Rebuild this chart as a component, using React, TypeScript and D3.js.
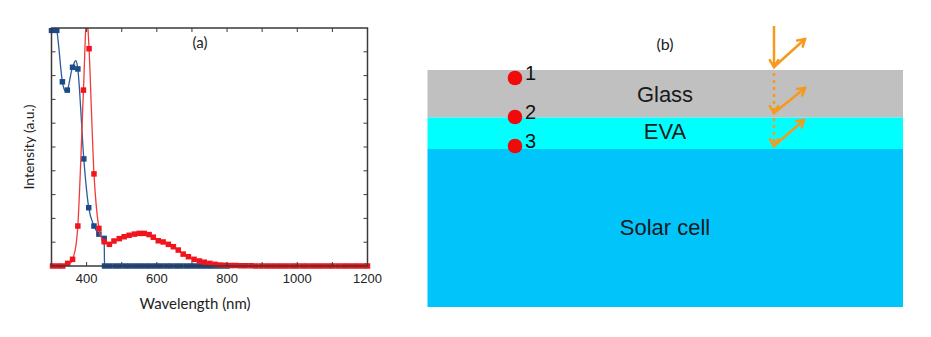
import React from "react";
import * as d3 from "d3";

// ---------- Panel (a) data ----------
const redWavelength = [303, 318, 332, 346, 360, 375, 391, 399, 407, 421, 435, 450, 465, 478, 493, 507, 521, 536, 550, 564, 578, 590, 604, 618, 633, 647, 661, 675, 690, 706, 721, 735, 751, 766, 780, 795, 810, 824, 839, 853, 868, 882, 897, 912, 926, 941, 955, 970, 985, 999, 1014, 1028, 1043, 1058, 1072, 1087, 1101, 1116, 1131, 1145, 1160, 1174, 1189, 1200];
const redIntensity = [0, 0, 0, 0.011, 0.028, 0.168, 0.739, 1.03, 0.913, 0.387, 0.158, 0.102, 0.091, 0.105, 0.115, 0.123, 0.129, 0.134, 0.137, 0.137, 0.132, 0.121, 0.106, 0.101, 0.091, 0.081, 0.067, 0.05, 0.039, 0.028, 0.021, 0.016, 0.011, 0.007, 0.004, 0.003, 0.002, 0.002, 0.001, 0.001, 0.001, 0, 0, 0, 0, 0, 0, 0, 0, 0, 0, 0, 0, 0, 0, 0, 0, 0, 0, 0, 0, 0, 0, 0];
// blue: smooth part (up to the cut-off) and flat tail
const blueWavelength = [300, 315, 331, 345, 360, 375, 392, 406, 421, 435, 450];
const blueIntensity = [0.99, 0.99, 0.774, 0.739, 0.835, 0.828, 0.45, 0.245, 0.168, 0.134, 0.116];
const blueTailWavelength = [451, 466, 481, 495, 510, 524, 539, 553, 568, 582, 597, 611, 626, 640, 655, 669, 684, 698, 713, 727, 742, 756, 771, 785, 800];
const blueTailIntensity = [0, 0, 0, 0, 0, 0, 0, 0, 0, 0, 0, 0, 0, 0, 0, 0, 0, 0, 0, 0, 0, 0, 0, 0, 0];
const xTickLabels = [400, 600, 800, 1000, 1200];
const xMinorTicks = [300, 400, 500, 600, 700, 800, 900, 1000, 1100, 1200];
const yTicks = [0.1, 0.2, 0.3, 0.4, 0.5, 0.6, 0.7, 0.8, 0.9];

// ---------- Panel (b) data ----------
const layerNames = ["Glass", "EVA", "Solar cell"];
const layerColors = ["#c0c0c0", "#00ffff", "#00c4fa"];
const pointLabels = ["1", "2", "3"];

const ORANGE = "#f7991d";

export default function App() {
  const x = d3.scaleLinear().domain([300, 1200]).range([51.5, 367.5]);
  const y = d3.scaleLinear().domain([0, 1]).range([266, 28]);

  const redData = redWavelength.map((w, i) => [w, redIntensity[i]] as [number, number]);
  const blueData = blueWavelength.map((w, i) => [w, blueIntensity[i]] as [number, number]);
  const blueTail = blueTailWavelength.map((w, i) => [w, blueTailIntensity[i]] as [number, number]);

  const smooth = d3
    .line<[number, number]>()
    .x((d) => x(d[0]))
    .y((d) => y(d[1]))
    .curve(d3.curveCatmullRom.alpha(0));
  const straight = d3
    .line<[number, number]>()
    .x((d) => x(d[0]))
    .y((d) => y(d[1]));

  const ms = 5.5;
  const blueAll = blueData.concat(blueTail);

  // panel b geometry
  const bx0 = 427.5;
  const bx1 = 903;
  const layerTops = [70, 117.5, 149];
  const layerBottoms = [117.5, 149, 307];
  const labelY = [96, 133, 229];
  const dotY = [78, 117, 146];

  const arrowX = 774;
  const chevron = (tx: number, ty: number, angle: number, size = 7) => {
    const a1 = angle + Math.PI - 0.55;
    const a2 = angle + Math.PI + 0.55;
    return `M${tx + size * Math.cos(a1)},${ty + size * Math.sin(a1)}L${tx},${ty}L${tx + size * Math.cos(a2)},${ty + size * Math.sin(a2)}`;
  };
  const reflections = [
    { tipY: 67, endX: 805, endY: 39 },
    { tipY: 113, endX: 805, endY: 88 },
    { tipY: 146, endX: 804, endY: 120 },
  ];

  return (
    <svg
      width={931}
      height={337}
      style={{ position: "absolute", left: 0, top: 0, background: "#fff" }}
    >
      <defs>
        <clipPath id="plotClip">
          <rect x={46} y={28} width={326} height={246} />
        </clipPath>
      </defs>

      {/* ---------- Panel (a) ---------- */}
      <g clipPath="url(#plotClip)">
        <path
          d={(smooth(blueData) || "") + (straight([blueData[blueData.length - 1], blueTail[0]]) || "") + (straight(blueTail) || "")}
          fill="none"
          stroke="#2c5c9c"
          strokeWidth={1.3}
        />
        {blueAll.map((d, i) => (
          <rect key={"b" + i} x={x(d[0]) - ms / 2} y={y(d[1]) - ms / 2} width={ms} height={ms} fill="#1a4a8a" />
        ))}
        <path d={smooth(redData) || ""} fill="none" stroke="#f23a3a" strokeWidth={1.3} />
        {redData.map((d, i) => (
          <rect key={"r" + i} x={x(d[0]) - ms / 2} y={y(d[1]) - ms / 2} width={ms} height={ms} fill="#f0141c" />
        ))}
      </g>

      {/* frame */}
      <rect x={51.5} y={28} width={316} height={238} fill="none" stroke="#3a3a3a" strokeWidth={1.5} />

      {xMinorTicks.map((t) => (
        <g key={"xt" + t}>
          <line x1={x(t)} x2={x(t)} y1={28} y2={32} stroke="#3a3a3a" strokeWidth={1} />
          <line x1={x(t)} x2={x(t)} y1={266} y2={262} stroke="#3a3a3a" strokeWidth={1} />
        </g>
      ))}
      {yTicks.map((t) => (
        <g key={"yt" + t}>
          <line x1={51.5} x2={55.5} y1={y(t)} y2={y(t)} stroke="#3a3a3a" strokeWidth={1} />
          <line x1={367.5} x2={363.5} y1={y(t)} y2={y(t)} stroke="#3a3a3a" strokeWidth={1} />
        </g>
      ))}
      {xTickLabels.map((t) => (
        <text
          key={"xl" + t}
          x={x(t)}
          y={283}
          textAnchor="middle"
          fontFamily="Liberation Sans, Arial, sans-serif"
          fontSize={13}
          fill="#222"
        >
          {t}
        </text>
      ))}
      <text x={195} y={309} textAnchor="middle" fontFamily="Lato, sans-serif" fontSize={15} fill="#222">
        Wavelength (nm)
      </text>
      <text
        transform="translate(34,147) rotate(-90)"
        textAnchor="middle"
        fontFamily="Lato, sans-serif"
        fontSize={14}
        fill="#222"
      >
        Intensity (a.u.)
      </text>
      <text x={200} y={48} textAnchor="middle" fontFamily="Lato, sans-serif" fontSize={15} fill="#222">
        (a)
      </text>

      {/* ---------- Panel (b) ---------- */}
      {layerNames.map((name, i) => (
        <rect
          key={"L" + name}
          x={bx0}
          y={layerTops[i]}
          width={bx1 - bx0}
          height={layerBottoms[i] - layerTops[i]}
          fill={layerColors[i]}
        />
      ))}
      {layerNames.map((name, i) => (
        <text
          key={"LT" + name}
          x={665}
          y={labelY[i]}
          textAnchor="middle"
          dominantBaseline="middle"
          fontFamily="Liberation Sans, Arial, sans-serif"
          fontSize={22}
          fill="#1a1a1a"
        >
          {name}
        </text>
      ))}
      <text x={665} y={50} textAnchor="middle" fontFamily="Lato, sans-serif" fontSize={16} fill="#222">
        (b)
      </text>

      {pointLabels.map((lab, i) => (
        <g key={"P" + lab}>
          <circle cx={515} cy={dotY[i]} r={7.3} fill="#f00a0a" />
          <text
            x={525}
            y={dotY[i] - 3}
            dominantBaseline="middle"
            fontFamily="Liberation Sans, Arial, sans-serif"
            fontSize={20}
            fill="#111"
          >
            {lab}
          </text>
        </g>
      ))}

      {/* arrows */}
      <line x1={arrowX} y1={26} x2={arrowX} y2={66} stroke={ORANGE} strokeWidth={2.5} />
      <line x1={arrowX} y1={73} x2={arrowX} y2={110} stroke={ORANGE} strokeWidth={2.5} strokeDasharray="3 4" />
      <line x1={arrowX} y1={118} x2={arrowX} y2={143} stroke={ORANGE} strokeWidth={2.5} strokeDasharray="3 4" />
      {reflections.map((r, i) => {
        const ang = Math.atan2(r.endY - r.tipY, r.endX - arrowX);
        return (
          <g key={"A" + i} fill="none" stroke={ORANGE} strokeWidth={2.5} strokeLinecap="round" strokeLinejoin="miter">
            <path d={chevron(arrowX, r.tipY, Math.PI / 2, 8)} />
            <line x1={arrowX} y1={r.tipY} x2={r.endX} y2={r.endY} />
            <path d={chevron(r.endX, r.endY, ang, 8)} />
          </g>
        );
      })}
    </svg>
  );
}
